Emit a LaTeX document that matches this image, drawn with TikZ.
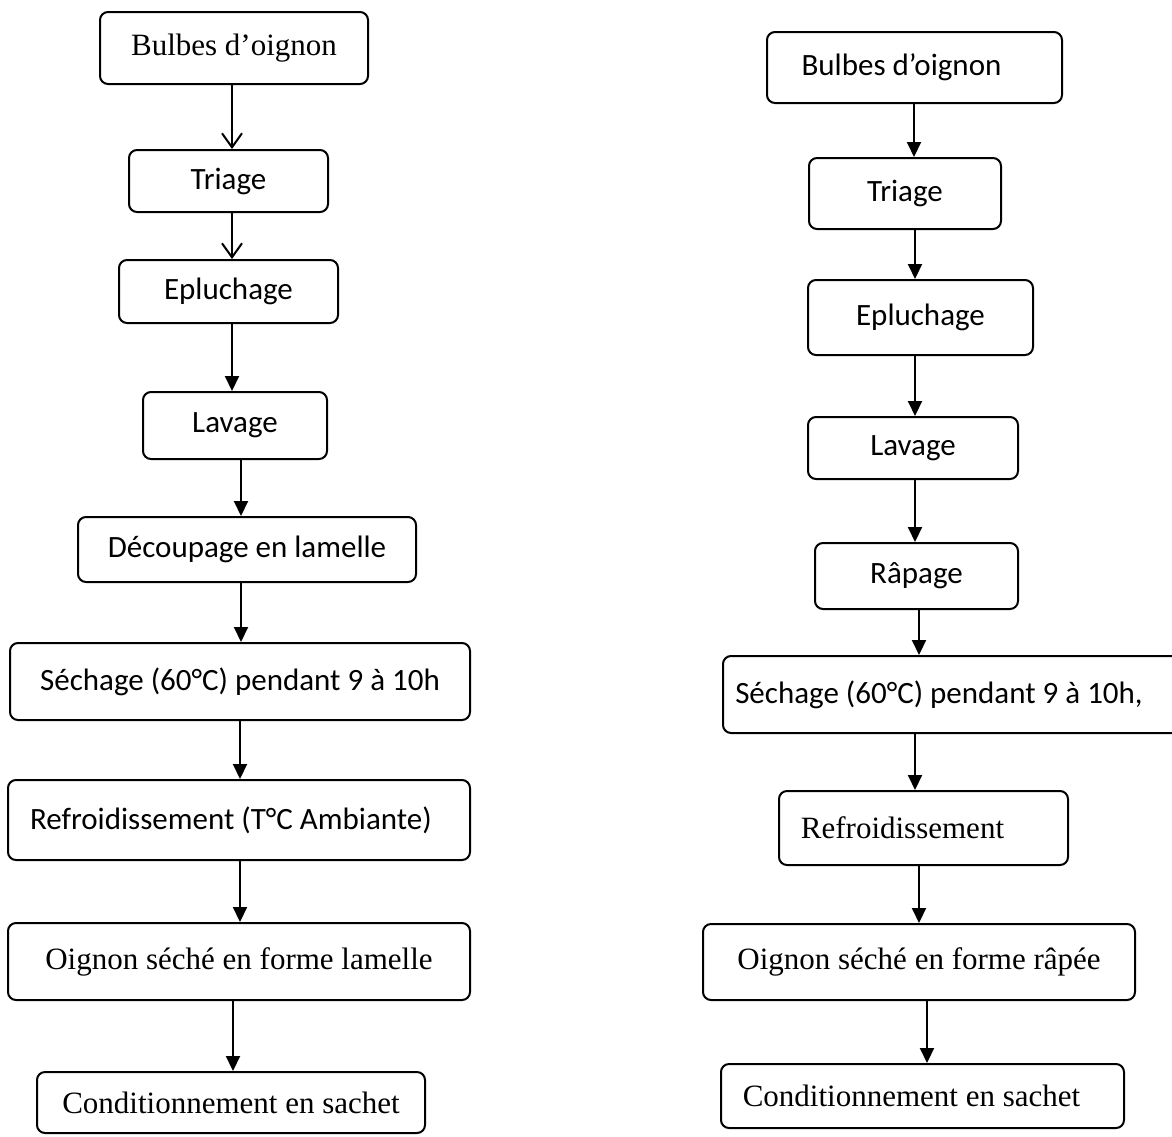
\documentclass[tikz,border=0pt]{standalone}
\usepackage{fontspec}
\setmainfont{Liberation Serif}
\newfontfamily\calibri{Carlito}
\usepackage{tikz}
\usetikzlibrary{arrows.meta}

\tikzset{
    stepbox/.style={draw, line width=2pt, rounded corners=8pt, inner sep=0pt,
        font=\calibri\fontsize{31}{37}\selectfont},
    serifbox/.style={stepbox, font=\rmfamily\fontsize{31}{37}\selectfont},
    arr/.style={line width=2pt, -{Triangle[length=15pt,width=14pt]}},
    openarr/.style={line width=2pt, -{Straight Barb[length=14pt,width=20pt,line width=2pt]}}
}

\begin{document}
\begin{tikzpicture}[x=1pt, y=-1pt]
    \clip (0,0) rectangle (1172,1136);

    % Left chain: onion in slices
    \node[serifbox, minimum width=268, minimum height=72] (b1) at (234,48) {Bulbes d’oignon};
    \node[stepbox, minimum width=199, minimum height=62] (t1) at (228.5,181) {Triage};
    \node[stepbox, minimum width=219, minimum height=63] (e1) at (228.5,291.5) {Epluchage};
    \node[stepbox, minimum width=184, minimum height=67] (l1) at (235,425.5) {Lavage};
    \node[stepbox, minimum width=338, minimum height=65] (d1) at (247,549.5) {Découpage en lamelle};
    \node[stepbox, minimum width=460, minimum height=77] (s1) at (240,681.5) {Séchage (60°C) pendant 9 à 10h};
    \node[stepbox, minimum width=462, minimum height=80] (r1) at (239,820) {Refroidissement (T°C Ambiante)\hspace*{16pt}};
    \node[serifbox, minimum width=462, minimum height=77] (o1) at (239,961.5) {Oignon séché en forme lamelle};
    \node[serifbox, minimum width=388, minimum height=61] (c1) at (231,1102.5) {Conditionnement en sachet};

    \draw[openarr] ([xshift=-2pt]b1.south) -- ([xshift=-2pt]b1.south |- t1.north);
    \draw[openarr] ([xshift=3.5pt]t1.south) -- ([xshift=3.5pt]t1.south |- e1.north);
    \draw[arr] ([xshift=3.5pt]e1.south) -- ([xshift=3.5pt]e1.south |- l1.north);
    \draw[arr] ([xshift=6pt]l1.south) -- ([xshift=6pt]l1.south |- d1.north);
    \draw[arr] ([xshift=-6pt]d1.south) -- ([xshift=-6pt]d1.south |- s1.north);
    \draw[arr] (s1.south) -- (s1.south |- r1.north);
    \draw[arr] ([xshift=1pt]r1.south) -- ([xshift=1pt]r1.south |- o1.north);
    \draw[arr] ([xshift=-6pt]o1.south) -- ([xshift=-6pt]o1.south |- c1.north);

    % Right chain: grated onion
    \node[stepbox, minimum width=295, minimum height=71] (b2) at (914.5,67.5) {Bulbes d’oignon\hspace*{26pt}};
    \node[stepbox, minimum width=192, minimum height=71] (t2) at (905,193.5) {Triage};
    \node[stepbox, minimum width=225, minimum height=75] (e2) at (920.5,317.5) {Epluchage};
    \node[stepbox, minimum width=210, minimum height=62] (l2) at (913,448) {Lavage};
    \node[stepbox, minimum width=203, minimum height=66] (r2) at (916.5,576) {Râpage};
    \node[stepbox, minimum width=467, minimum height=77] (s2) at (956.5,694.5) {Séchage (60°C) pendant 9 à 10h,\hspace*{35pt}};
    \node[serifbox, minimum width=289, minimum height=74] (f2) at (923.5,828) {Refroidissement\hspace*{42pt}};
    \node[serifbox, minimum width=432, minimum height=76] (o2) at (919,962) {Oignon séché en forme râpée};
    \node[serifbox, minimum width=403, minimum height=64] (c2) at (922.5,1096) {Conditionnement en sachet\hspace*{22pt}};

    \draw[arr] ([xshift=-0.5pt]b2.south) -- ([xshift=-0.5pt]b2.south |- t2.north);
    \draw[arr] ([xshift=10pt]t2.south) -- ([xshift=10pt]t2.south |- e2.north);
    \draw[arr] ([xshift=-5.5pt]e2.south) -- ([xshift=-5.5pt]e2.south |- l2.north);
    \draw[arr] ([xshift=2pt]l2.south) -- ([xshift=2pt]l2.south |- r2.north);
    \draw[arr] ([xshift=2.5pt]r2.south) -- ([xshift=2.5pt]r2.south |- s2.north);
    \draw[arr] ([xshift=-41.5pt]s2.south) -- ([xshift=-41.5pt]s2.south |- f2.north);
    \draw[arr] ([xshift=-4.5pt]f2.south) -- ([xshift=-4.5pt]f2.south |- o2.north);
    \draw[arr] ([xshift=8pt]o2.south) -- ([xshift=8pt]o2.south |- c2.north);
\end{tikzpicture}
\end{document}
